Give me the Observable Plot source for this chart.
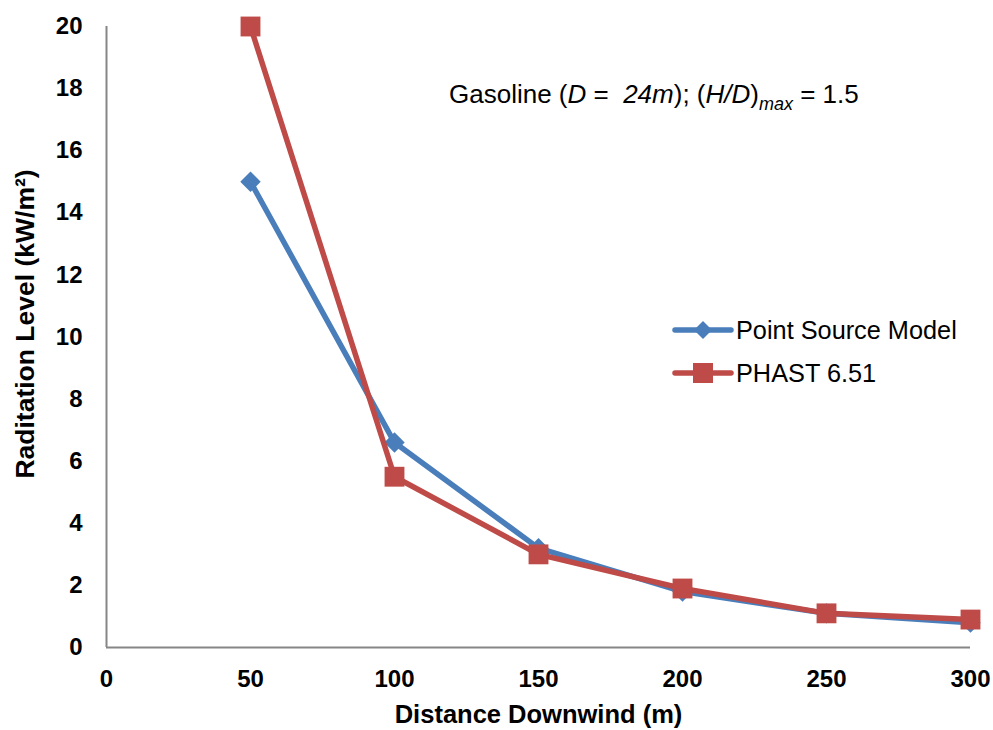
<!DOCTYPE html>
<html>
<head>
<meta charset="utf-8">
<script src="https://cdn.jsdelivr.net/npm/d3@7"></script>
<script src="https://cdn.jsdelivr.net/npm/@observablehq/plot@0.6"></script>
<style>
  html, body { margin: 0; padding: 0; background: #fff; }
  #chart svg { display: block; }
</style>
</head>
<body>
<div id="chart"></div>
<script>
const distance = [50, 100, 150, 200, 250, 300];
const pointSource = [15, 6.6, 3.2, 1.8, 1.1, 0.8];
const phast = [20, 5.5, 3.0, 1.9, 1.1, 0.9];
const xTicks = [0, 50, 100, 150, 200, 250, 300];
const yTicks = [0, 2, 4, 6, 8, 10, 12, 14, 16, 18, 20];
const seriesNames = ["Point Source Model", "PHAST 6.51"];
const seriesColors = ["#4a7ebb", "#be4b48"];

const psData = distance.map((d, i) => ({x: d, y: pointSource[i]}));
const phData = distance.map((d, i) => ({x: d, y: phast[i]}));

const font = "'Liberation Sans', Arial, sans-serif";

const chart = Plot.plot({
  width: 993,
  height: 730,
  marginTop: 26,
  marginBottom: 83,
  marginLeft: 106,
  marginRight: 23,
  style: {fontFamily: font, fontSize: "24px", fontWeight: "bold", color: "#000", background: "#fff"},
  x: {domain: [0, 300], ticks: xTicks, label: null},
  y: {domain: [0, 20], ticks: yTicks, label: null},
  marks: [
    Plot.axisX({ticks: xTicks, tickSize: 0, tickPadding: 22, label: null}),
    Plot.axisY({ticks: yTicks, tickSize: 0, tickPadding: 24, label: null}),
    Plot.ruleX([0], {stroke: "#868686", strokeWidth: 2}),
    Plot.ruleY([0], {stroke: "#868686", strokeWidth: 2}),
    Plot.line(psData, {x: "x", y: "y", stroke: seriesColors[0], strokeWidth: 5.5}),
    Plot.dot(psData, {x: "x", y: "y", symbol: "diamond2", r: 9.2, fill: seriesColors[0], stroke: "none"}),
    Plot.line(phData, {x: "x", y: "y", stroke: seriesColors[1], strokeWidth: 5.5}),
    Plot.dot(phData, {x: "x", y: "y", symbol: "square", r: 11.2, fill: seriesColors[1], stroke: "none"}),
    Plot.text(["Distance Downwind (m)"], {frameAnchor: "bottom", dy: 67, lineAnchor: "middle", textAnchor: "middle", fontSize: 25.5, fontWeight: "bold", fill: "#000"}),
    Plot.text(["Raditation Level (kW/m²)"], {frameAnchor: "left", dx: -81, dy: -13, rotate: -90, textAnchor: "middle", lineAnchor: "middle", fontSize: 26.5, fontWeight: "bold", fill: "#000"})
  ]
});

document.getElementById("chart").appendChild(chart);

const svg = d3.select(chart);

// Annotation
const ann = svg.append("text")
  .attr("x", 449).attr("y", 103)
  .attr("text-anchor", "start")
  .attr("font-family", font).attr("font-size", 26).attr("font-weight", "normal")
  .attr("fill", "#000");
ann.append("tspan").text("Gasoline (");
ann.append("tspan").attr("font-style", "italic").text("D");
ann.append("tspan").text(" =  ");
ann.append("tspan").attr("font-style", "italic").text("24m");
ann.append("tspan").text("); (");
ann.append("tspan").attr("font-style", "italic").text("H/D");
ann.append("tspan").text(")");
ann.append("tspan").attr("font-style", "italic").attr("font-size", 18).attr("dy", 7).text("max");
ann.append("tspan").attr("dy", -7).text(" = 1.5");

// Legend
const legendRows = [330, 373];
seriesNames.forEach((name, i) => {
  const g = svg.append("g").attr("transform", `translate(0,${legendRows[i]})`);
  g.append("line").attr("x1", 675).attr("x2", 731).attr("y1", 0).attr("y2", 0)
    .attr("stroke", seriesColors[i]).attr("stroke-width", 5.5).attr("stroke-linecap", "round");
  if (i === 0) {
    g.append("path").attr("d", "M703,-9 L712,0 L703,9 L694,0 Z").attr("fill", seriesColors[i]);
  } else {
    g.append("rect").attr("x", 693).attr("y", -10).attr("width", 20).attr("height", 20).attr("fill", seriesColors[i]);
  }
  g.append("text").attr("x", 736).attr("y", 0).attr("dy", "0.35em")
    .attr("text-anchor", "start")
    .attr("font-family", font).attr("font-size", 25.3).attr("font-weight", "normal").attr("fill", "#000")
    .text(name);
});
</script>
</body>
</html>
